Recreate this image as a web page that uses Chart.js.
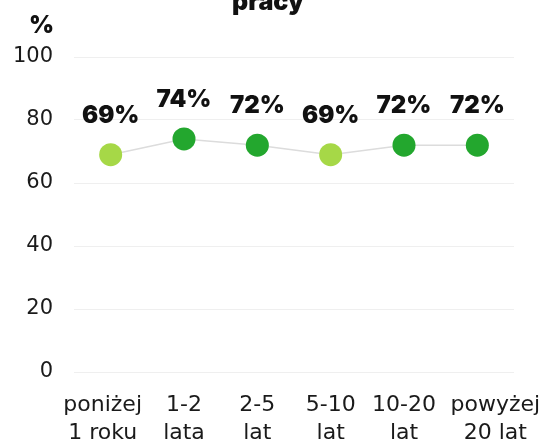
<!DOCTYPE html>
<html>
<head>
<meta charset="utf-8">
<script src="https://cdn.jsdelivr.net/npm/chart.js@4/dist/chart.umd.min.js"></script>
<style>
  html, body { margin: 0; padding: 0; background: #fff; }
  #wrap { width: 551px; height: 444px; position: relative; }
</style>
</head>
<body>
<div id="wrap"><canvas id="c" width="551" height="444"></canvas></div>
<script>
// Staż pracy – odsetek (%)
const categories = [
  ['poniżej', '1 roku'],
  ['1-2', 'lata'],
  ['2-5', 'lat'],
  ['5-10', 'lat'],
  ['10-20', 'lat'],
  ['powyżej', '20 lat']
];
const values = [69, 74, 72, 69, 72, 72];
const yTicks = [0, 20, 40, 60, 80, 100];
const titleText = 'pracy';
const unitText = '%';

const LIGHT = '#a6d847';
const DARK = '#23a72e';
const pointColors = values.map(v => v < 70 ? LIGHT : DARK);

const FONT = "'DejaVu Sans', Verdana, sans-serif";
const BOLD_FONT = "Inter, 'Liberation Sans', sans-serif";

// Horizontal nudges so the outer category captions do not crowd their neighbours
const captionShift = [-8, 0, 0, 0, 0, 18];

// Title fragment, unit caption, category captions and value labels
const overlay = {
  id: 'overlay',
  afterDatasetsDraw(chart) {
    const ctx = chart.ctx;
    ctx.save();
    ctx.fillStyle = '#111';
    ctx.textAlign = 'center';
    ctx.textBaseline = 'alphabetic';
    ctx.font = "900 25px " + BOLD_FONT;
    ctx.fillText(titleText, 268, 10);

    ctx.font = "900 24px " + BOLD_FONT;
    ctx.textAlign = 'right';
    ctx.fillText(unitText, 54, 33);

    // category captions, two lines each, centred on the x scale ticks
    const xs = chart.scales.x;
    ctx.fillStyle = '#1a1a1a';
    ctx.textAlign = 'center';
    ctx.textBaseline = 'middle';
    ctx.font = "22px " + FONT;
    categories.forEach((lines, i) => {
      const x = xs.getPixelForTick(i) + captionShift[i];
      lines.forEach((t, j) => ctx.fillText(t, x, xs.top + 33 + j * 28));
    });

    const meta = chart.getDatasetMeta(0);
    ctx.fillStyle = '#111';
    ctx.font = "900 24px " + BOLD_FONT;
    meta.data.forEach((pt, i) => {
      ctx.fillText(values[i] + '%', pt.x, pt.y - 39);
    });
    ctx.restore();
  }
};

new Chart(document.getElementById('c'), {
  type: 'line',
  data: {
    labels: categories,
    datasets: [{
      data: values,
      borderColor: '#dcdcdc',
      borderWidth: 1.5,
      pointRadius: 11.5,
      pointHoverRadius: 11.5,
      pointBackgroundColor: pointColors,
      pointBorderColor: pointColors,
      pointBorderWidth: 0,
      tension: 0,
      fill: false
    }]
  },
  options: {
    responsive: false,
    animation: false,
    events: [],
    layout: { padding: { top: 57, right: 37, bottom: 0, left: 0 } },
    plugins: {
      legend: { display: false },
      tooltip: { enabled: false },
      title: { display: false }
    },
    scales: {
      x: {
        offset: true,
        grid: { display: false, drawTicks: false },
        border: { display: false },
        ticks: { display: false },
        afterFit(axis) { axis.height = 72; }
      },
      y: {
        min: 0,
        max: 100,
        afterBuildTicks(axis) { axis.ticks = yTicks.map(v => ({ value: v })); },
        grid: { color: '#efefef', lineWidth: 1, drawTicks: false },
        border: { display: false },
        ticks: {
          color: '#1a1a1a',
          font: { family: FONT, size: 21 },
          padding: 21
        },
        afterFit(axis) { axis.width = 74; }
      }
    }
  },
  plugins: [overlay]
});
</script>
</body>
</html>
